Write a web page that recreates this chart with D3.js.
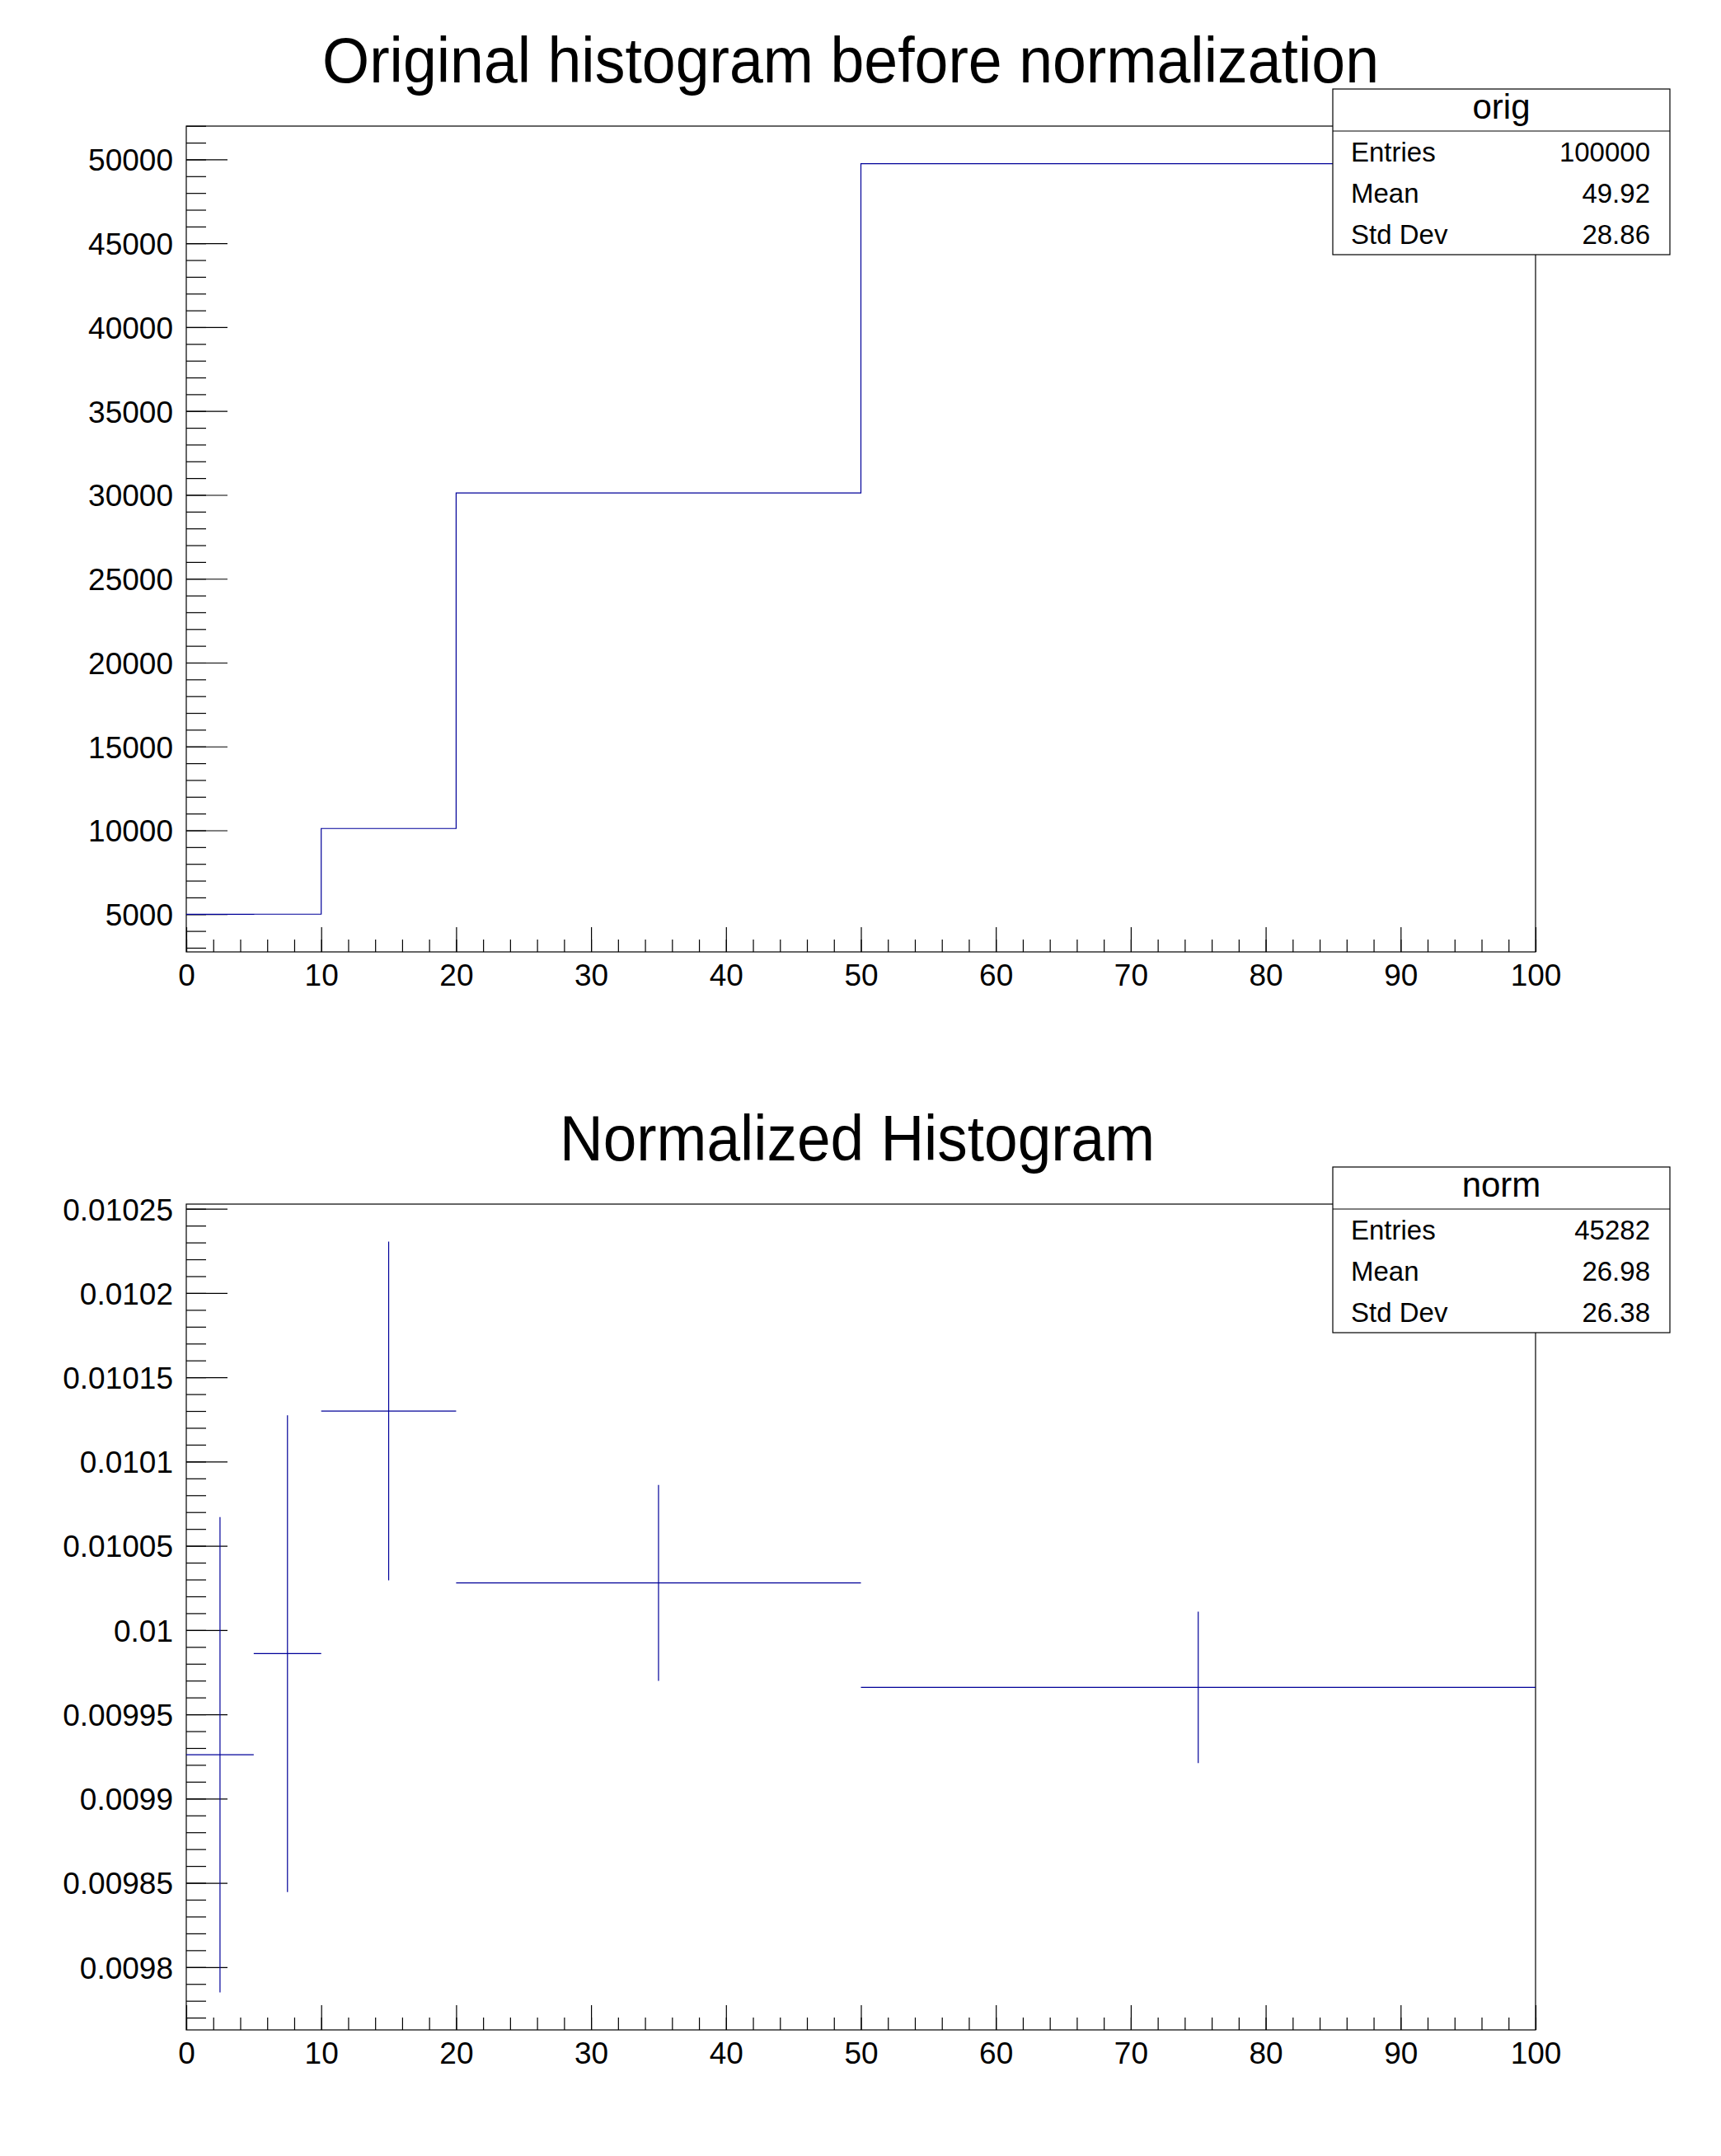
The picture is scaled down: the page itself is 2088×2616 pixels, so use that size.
<!DOCTYPE html>
<html>
<head>
<meta charset="utf-8">
<script src="https://cdn.jsdelivr.net/npm/d3@7"></script>
<style>
  body { margin: 0; background: #fff; }
  text { font-family: "Liberation Sans", Arial, sans-serif; fill: #000; }
</style>
</head>
<body>
<div id="chart"></div>
<script>
// bins shared by both histograms
const binEdges = [0, 5, 10, 20, 50, 100];

// top histogram: raw counts
const origCounts = [4990, 5000, 10110, 30120, 49750];
const origTicks = [5000, 10000, 15000, 20000, 25000, 30000, 35000, 40000, 45000, 50000];
const origTickLabels = ['5000', '10000', '15000', '20000', '25000', '30000', '35000', '40000', '45000', '50000'];

// bottom histogram: normalized density with errors
const normValues = [0.009926, 0.009986, 0.010130, 0.010028, 0.009966];
const normErrors = [0.000141, 0.0001415, 0.0001005, 0.0000581, 0.0000449];
const normTicks = [0.0098, 0.00985, 0.0099, 0.00995, 0.01, 0.01005, 0.0101, 0.01015, 0.0102, 0.01025];
const normTickLabels = ['0.0098', '0.00985', '0.0099', '0.00995', '0.01', '0.01005', '0.0101', '0.01015', '0.0102', '0.01025'];

const xTicks = [0, 10, 20, 30, 40, 50, 60, 70, 80, 90, 100];

// stats boxes
const statLabels = ['Entries', 'Mean', 'Std Dev'];
const origStats = ['100000', '49.92', '28.86'];
const normStats = ['45282', '26.98', '26.38'];

const titles = ['Original histogram before normalization', 'Normalized Histogram'];
const statNames = ['orig', 'norm'];

//Dimensions
const dims = {
  width: 2088,
  height: 2616,
  padH: 1308,
  frame: { left: 226, right: 1863, top: 153, bottom: 1155 },
  titleY: 100
}
// title centre and rendered width per pad (ROOT's Helvetica is a bit narrower)
const titleBox = [{ x: 1032, w: 1282 }, { x: 1040, w: 722 }]
const lineColor = '#000099'

const svg = d3.select('#chart')
  .append('svg')
  .attr('width', dims.width)
  .attr('height', dims.height)

svg.append('rect')
  .attr('width', dims.width)
  .attr('height', dims.height)
  .attr('fill', '#fff')

function drawPad(index, yDomain, yTicks, yLabels, yMinor, drawData, stats) {
  const g = svg.append('g')
    .attr('transform', `translate(0, ${index * dims.padH})`)
  const f = dims.frame

  const xScale = d3.scaleLinear().domain([0, 100]).range([f.left, f.right])
  const yScale = d3.scaleLinear().domain(yDomain).range([f.bottom, f.top])

  // frame
  g.append('rect')
    .attr('x', f.left).attr('y', f.top)
    .attr('width', f.right - f.left).attr('height', f.bottom - f.top)
    .attr('fill', 'none').attr('stroke', '#000').attr('stroke-width', 1.2)

  // x axis, ticks point inwards
  const xMajor = d3.axisBottom(xScale)
    .tickValues(xTicks).tickSize(-30).tickSizeOuter(0).tickPadding(15)
    .tickFormat(d3.format('d'))
  const xMinor = d3.axisBottom(xScale)
    .tickValues(d3.range(0, 101, 2)).tickSize(-15).tickSizeOuter(0).tickFormat('')
  g.append('g').attr('transform', `translate(0, ${f.bottom})`).call(xMinor)
  g.append('g').attr('transform', `translate(0, ${f.bottom})`).call(xMajor)
    .selectAll('text').attr('font-size', 37)

  // y axis
  const yMajor = d3.axisLeft(yScale)
    .tickValues(yTicks).tickSize(-50).tickSizeOuter(0).tickPadding(16)
    .tickFormat((d, i) => yLabels[i])
  const yMinorAxis = d3.axisLeft(yScale)
    .tickValues(yMinor).tickSize(-24).tickSizeOuter(0).tickFormat('')
  g.append('g').attr('transform', `translate(${f.left}, 0)`).call(yMinorAxis)
  g.append('g').attr('transform', `translate(${f.left}, 0)`).call(yMajor)
    .selectAll('text').attr('font-size', 37).attr('dy', '0.36em')

  g.selectAll('.domain').remove()
  g.selectAll('.tick line').attr('stroke', '#000').attr('stroke-width', 1.2)

  drawData(g, xScale, yScale)

  // title
  g.append('text')
    .attr('x', titleBox[index].x).attr('y', dims.titleY)
    .attr('text-anchor', 'middle')
    .attr('font-size', 77)
    .attr('textLength', titleBox[index].w)
    .attr('lengthAdjust', 'spacingAndGlyphs')
    .text(titles[index])

  // stats box
  const box = { x: 1617, y: 108, w: 409, h: 201, head: 51 }
  const sb = g.append('g')
  sb.append('rect')
    .attr('x', box.x).attr('y', box.y).attr('width', box.w).attr('height', box.h)
    .attr('fill', '#fff').attr('stroke', '#000').attr('stroke-width', 1.2)
  sb.append('line')
    .attr('x1', box.x).attr('x2', box.x + box.w)
    .attr('y1', box.y + box.head).attr('y2', box.y + box.head)
    .attr('stroke', '#000').attr('stroke-width', 1.2)
  sb.append('text')
    .attr('x', box.x + box.w / 2).attr('y', box.y + 36)
    .attr('text-anchor', 'middle').attr('font-size', 42)
    .text(statNames[index])
  const rowH = (box.h - box.head) / statLabels.length
  statLabels.forEach((lab, i) => {
    const y = box.y + box.head + rowH * (i + 0.5) + 12
    sb.append('text').attr('x', box.x + 22).attr('y', y)
      .attr('font-size', 33).text(lab)
    sb.append('text').attr('x', box.x + box.w - 24).attr('y', y)
      .attr('text-anchor', 'end').attr('font-size', 33).text(stats[i])
  })
}

// Pad 1: step histogram
const oMin = d3.min(origCounts), oMax = d3.max(origCounts)
const oSpan = oMax - oMin
drawPad(0, [oMin - 0.05 * oSpan, oMax + 0.05 * oSpan], origTicks, origTickLabels,
  d3.range(3000, 52001, 1000),
  (g, x, y) => {
    const pts = origCounts.map((c, i) => [binEdges[i], c])
    pts.push([binEdges[binEdges.length - 1], origCounts[origCounts.length - 1]])
    const line = d3.line()
      .x(d => x(d[0]))
      .y(d => y(d[1]))
      .curve(d3.curveStepAfter)
    g.append('path')
      .attr('d', line(pts))
      .attr('fill', 'none')
      .attr('stroke', lineColor)
      .attr('stroke-width', 1.2)
  },
  origStats)

// Pad 2: error bars
const lows = normValues.map((v, i) => v - normErrors[i])
const highs = normValues.map((v, i) => v + normErrors[i])
const nMin = d3.min(lows), nMax = d3.max(highs)
const nSpan = nMax - nMin
drawPad(1, [nMin - 0.05 * nSpan, nMax + 0.05 * nSpan], normTicks, normTickLabels,
  d3.range(977, 1026).map(d => d / 100000),
  (g, x, y) => {
    const bins = normValues.map((v, i) => ({
      lo: binEdges[i], hi: binEdges[i + 1], v: v, e: normErrors[i]
    }))
    g.selectAll('line.hbar')
      .data(bins)
      .join('line')
      .attr('class', 'hbar')
      .attr('x1', d => x(d.lo)).attr('x2', d => x(d.hi))
      .attr('y1', d => y(d.v)).attr('y2', d => y(d.v))
      .attr('stroke', lineColor).attr('stroke-width', 1.2)
    g.selectAll('line.vbar')
      .data(bins)
      .join('line')
      .attr('class', 'vbar')
      .attr('x1', d => x((d.lo + d.hi) / 2)).attr('x2', d => x((d.lo + d.hi) / 2))
      .attr('y1', d => y(d.v - d.e)).attr('y2', d => y(d.v + d.e))
      .attr('stroke', lineColor).attr('stroke-width', 1.2)
  },
  normStats)
</script>
</body>
</html>
